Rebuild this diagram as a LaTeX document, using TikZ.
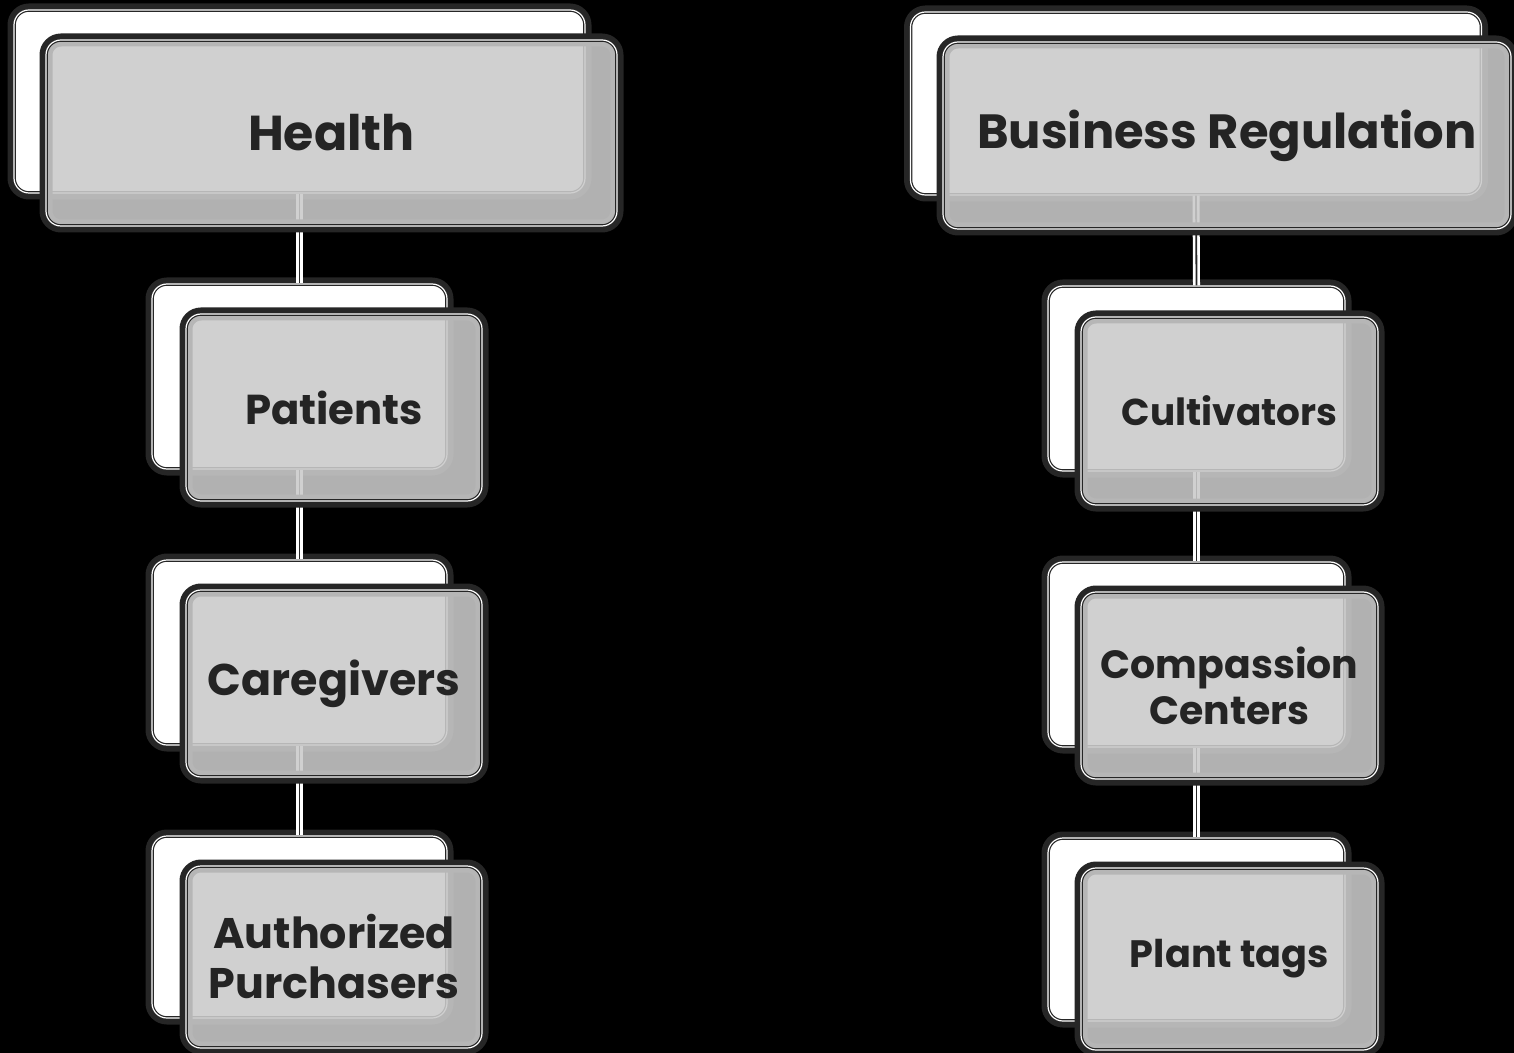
\documentclass[tikz,border=0pt]{standalone}
\usepackage{fontspec}
\setmainfont{Poppins}
\definecolor{edge}{RGB}{38,38,38}
\definecolor{face}{RGB}{202,202,202}
\definecolor{ink}{RGB}{36,36,36}

\begin{document}
\begin{tikzpicture}[x=0.5pt,y=0.5pt,yscale=-1,xscale=1,
    boxsize/.style 2 args={minimum width=#1*0.5pt, minimum height=#2*0.5pt},
    textsize/.style 2 args={font=\bfseries\fontsize{#1}{#2}\selectfont},
    backbox/.style={rectangle, rounded corners=7.5pt, inner sep=0pt, fill=white,
        draw=edge, line width=0.6pt, double=white, double distance=0.6pt,
        preaction={draw=edge, line width=6.5pt}},
    frontbox/.style={backbox, fill=face, fill opacity=0.88, text opacity=1,
        text=ink, align=center},
    link/.style={draw=white, line width=1.3pt, double=edge, double distance=0.9pt}]
\fill[black] (0,0) rectangle (1514,1053);
\useasboundingbox (0,0) rectangle (1514,1053);
% back plates
\node[backbox, boxsize={571}{183}] (healthback) at (299.5,101.5) {};
\node[backbox, boxsize={295}{185}] (patback) at (299.5,376.5) {};
\node[backbox, boxsize={295}{185}] (careback) at (299.5,652.5) {};
\node[backbox, boxsize={295}{182}] (authback) at (299.5,927) {};
\node[backbox, boxsize={571}{183}] (bizback) at (1196,103.5) {};
\node[backbox, boxsize={297}{185}] (cultback) at (1196.5,378.5) {};
\node[backbox, boxsize={297}{185}] (compback) at (1196.5,654.5) {};
\node[backbox, boxsize={297}{183}] (tagback) at (1196.5,929.5) {};
% connectors
\draw[link] (healthback.south) -- (patback.north);
\draw[link] (patback.south) -- (careback.north);
\draw[link] (careback.south) -- (authback.north);
\draw[link] (bizback.south) -- (cultback.north);
\draw[link] (cultback.south) -- (compback.north);
\draw[link] (compback.south) -- (tagback.north);
% front plates
\node[frontbox, boxsize={571}{186}, textsize={24.5}{28}] (health) at (331.5,133) {Health};
\node[frontbox, boxsize={296}{187}, textsize={20.9}{24}] (pat) at (334,407.5) {Patients};
\node[frontbox, boxsize={296}{187}, textsize={22.2}{25}] (care) at (334,683.5) {Caregivers};
\node[frontbox, boxsize={296}{182}, textsize={21.4}{25}] (auth) at (334,957) {Authorized\\Purchasers};
\node[frontbox, boxsize={568}{187}, textsize={24}{28}] (biz) at (1227,135.5) {Business Regulation};
\node[frontbox, boxsize={297}{188}, textsize={18.7}{22}] (cult) at (1229.5,411) {Cultivators};
\node[frontbox, boxsize={297}{187}, textsize={19.7}{23}] (comp) at (1229.5,685.5) {Compassion\\Centers};
\node[frontbox, boxsize={297}{182}, textsize={19.1}{22}] (tag) at (1229.5,959) {Plant tags};
\end{tikzpicture}
\end{document}
